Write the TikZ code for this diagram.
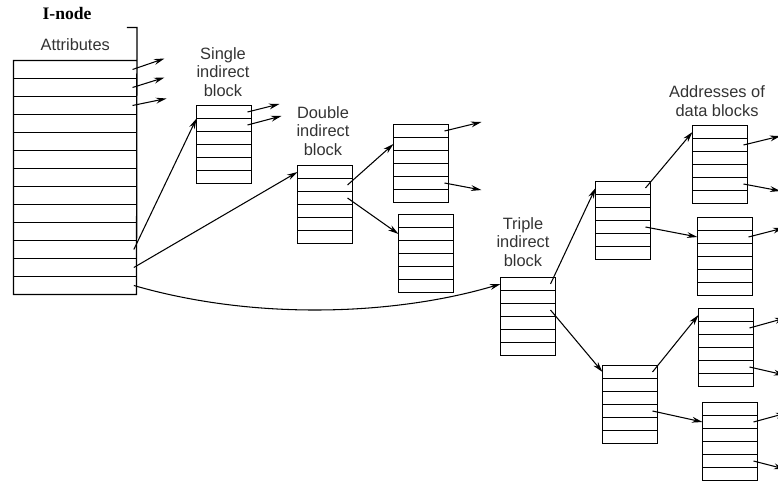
\documentclass[tikz,border=0pt]{standalone}
\usepackage{fontspec}
\setmainfont{Liberation Sans}
\newfontfamily\inodefont{Liberation Serif}
\usetikzlibrary{arrows.meta}

\tikzset{
  cell/.style={minimum width=1.65cm, minimum height=0.39cm, inner sep=0pt, outer sep=0pt},
  icell/.style={cell, minimum width=3.69cm, minimum height=0.54cm},
  frame/.style={line width=1.1pt},
  ptr/.style={line width=0.9pt, -{Stealth[length=9pt,width=5pt]}},
  lbl/.style={align=center, font=\fontsize{14}{16}\selectfont, text=black!80}
}
% a block of six pointer slots, placed by its top left corner
\newcommand{\fblock}[3]{%
  \foreach \i in {1,...,6}
    \node[cell, anchor=north west] (#1-\i) at (#2.5,{#3.5+(\i-1)*13}) {};
  \draw[frame] (#1-1.north west) rectangle (#1-6.south east);
  \foreach \i in {1,...,5}
    \draw[frame] (#1-\i.south west) -- (#1-\i.south east);}
% a short pointer leaving a slot
\newcommand{\outptr}[3]{%
  \coordinate (#1-o) at ([shift={(#2,#3)}]#1.east);
  \draw[ptr] ([xshift=-0.12cm]#1.east) -- (#1-o);}

\begin{document}
\begin{tikzpicture}[x=0.03cm, y=-0.03cm]
\useasboundingbox (0,0) rectangle (778,483);

% i-node
\node[font=\inodefont\bfseries\fontsize{15}{18}\selectfont] (title) at (67,13) {I-node};
\node[lbl, anchor=north west, minimum width=3.69cm, minimum height=0.99cm, inner sep=0pt] (attr) at (13.5,27.5) {Attributes};
\foreach \i in {1,...,13}
  \node[icell, anchor=north west] (I-\i) at (13.5,{60.5+(\i-1)*18}) {};
\draw[frame] ([xshift=-0.3cm]attr.north east) -- (attr.north east) -- (I-13.south east)
  -- (I-13.south west) -- (I-1.north west) -- (I-1.north east);
\foreach \i in {1,...,12}
  \draw[frame] (I-\i.south west) -- (I-\i.south east);

% indirect blocks
\fblock{S}{196}{105}
\fblock{D}{297}{165}
\fblock{D1}{393}{124}
\fblock{D2}{398}{214}
\fblock{T}{500}{277}
\fblock{T1}{595}{181}
\fblock{T2}{602}{365}
\fblock{A1}{692}{125}
\fblock{A2}{697}{217}
\fblock{A3}{698}{308}
\fblock{A4}{702}{402}

% labels
\node[lbl] (slbl) at (223,72) {Single\\indirect\\block};
\node[lbl] (dlbl) at (323,131) {Double\\indirect\\block};
\node[lbl] (tlbl) at (523,242) {Triple\\indirect\\block};
\node[lbl] (albl) at (717,101) {Addresses of\\data blocks};

% direct pointers
\outptr{I-1}{28}{-11}
\outptr{I-2}{28}{-10}
\outptr{I-3}{30}{-7}
\outptr{S-1}{28}{-8}
\outptr{S-2}{30}{-9}
\outptr{D1-1}{33}{-9}
\outptr{D1-5}{33}{7}
\outptr{A1-2}{33}{-9}
\outptr{A1-5}{33}{7}
\outptr{A2-2}{31}{-9}
\outptr{A3-2}{32}{-10}
\outptr{A3-5}{31}{8}
\outptr{A4-2}{29}{-9}
\outptr{A4-5}{27}{8}

% indirect pointers
\draw[ptr] ([xshift=-0.08cm]I-11.east) -- (S-1.south west);
\draw[ptr] ([xshift=-0.08cm]I-12.east) -- (D-1.west);
\draw[ptr] ([xshift=-0.08cm]I-13.east) .. controls (260,322) and (400,314) .. (T-1.west);
\draw[ptr] ([xshift=-0.15cm]D-2.east) -- (D1-2.west);
\draw[ptr] ([xshift=-0.15cm]D-3.east) -- (D2-2.west);
\draw[ptr] ([xshift=-0.15cm]T-1.east) -- (T1-1.west);
\draw[ptr] ([xshift=-0.15cm]T-3.east) -- (T2-1.west);
\draw[ptr] ([xshift=-0.15cm]T1-1.east) -- (A1-1.west);
\draw[ptr] ([xshift=-0.15cm]T1-4.east) -- (A2-2.west);
\draw[ptr] ([xshift=-0.15cm]T2-1.east) -- (A3-1.west);
\draw[ptr] ([xshift=-0.15cm]T2-4.east) -- (A4-2.west);
\end{tikzpicture}
\end{document}
